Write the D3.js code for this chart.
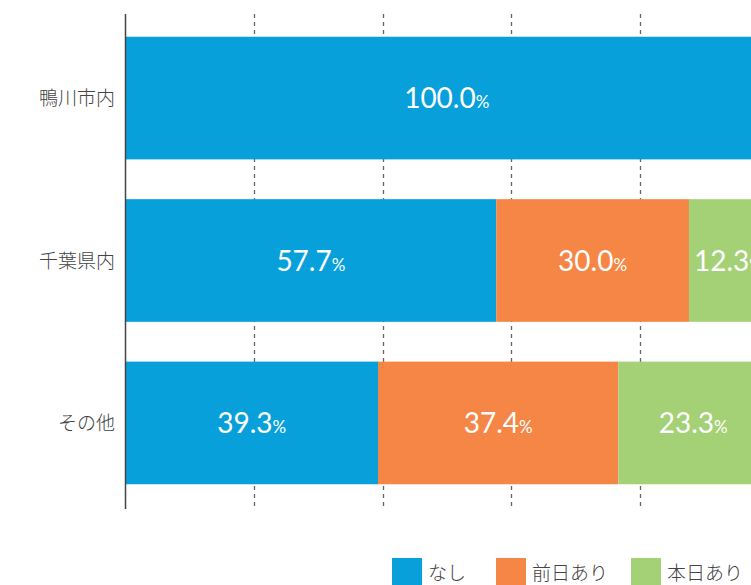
<!DOCTYPE html>
<html>
<head>
<meta charset="utf-8">
<script src="https://cdn.jsdelivr.net/npm/d3@7"></script>
<style>
  body { margin: 0; background: #fff; }
  svg { display: block; font-family: "Lato", "Noto Sans CJK JP", sans-serif; }
</style>
</head>
<body>
<svg id="chart" width="751" height="585"></svg>
<script>
const categories = ["鴨川市内", "千葉県内", "その他"];
const seriesNames = ["なし", "前日あり", "本日あり"];
const colors = ["#07a0db", "#f58646", "#a4d176"];
const values = [
  [100.0, 0, 0],
  [57.7, 30.0, 12.3],
  [39.3, 37.4, 23.3]
];
const gridTicks = [20, 40, 60, 80];

const svg = d3.select("#chart");

const x = d3.scaleLinear().domain([0, 100]).range([125.5, 768]);
const y = d3.scaleBand().domain(categories).range([14, 507]).paddingInner(0.245).paddingOuter(0.14);

// dashed grid lines
svg.append("g")
  .selectAll("line")
  .data(gridTicks)
  .enter()
  .append("line")
  .attr("x1", d => Math.round(x(d)) + 0.5)
  .attr("x2", d => Math.round(x(d)) + 0.5)
  .attr("y1", 14)
  .attr("y2", 509)
  .style("stroke", "#666")
  .style("stroke-width", "1.3px")
  .style("stroke-dasharray", "4,4");

// stack rows
const rows = categories.map((c, i) => {
  let acc = 0;
  return values[i].map((v, j) => {
    const seg = { cat: c, s: j, x0: acc, x1: acc + v, v: v };
    acc += v;
    return seg;
  }).filter(d => d.v > 0);
});

const segs = rows.flat();

svg.append("g")
  .selectAll("rect")
  .data(segs)
  .enter()
  .append("rect")
  .attr("x", d => x(d.x0))
  .attr("width", d => x(d.x1) - x(d.x0))
  .attr("y", d => y(d.cat))
  .attr("height", y.bandwidth())
  .attr("fill", d => colors[d.s]);

const lbl = svg.append("g")
  .selectAll("text")
  .data(segs)
  .enter()
  .append("text")
  .attr("x", d => (x(d.x0) + x(d.x1)) / 2)
  .attr("y", d => y(d.cat) + y.bandwidth() / 2 + 10)
  .attr("text-anchor", "middle")
  .attr("fill", "#fff")
  .style("font-weight", 400);
lbl.append("tspan").style("font-size", "28px").text(d => d.v.toFixed(1));
lbl.append("tspan").style("font-size", "17px").text("%");

// axis line
svg.append("line")
  .attr("x1", 125.5).attr("x2", 125.5)
  .attr("y1", 14).attr("y2", 509)
  .style("stroke", "#444")
  .style("stroke-width", "1.5px");

// category labels
svg.append("g")
  .selectAll("text")
  .data(categories)
  .enter()
  .append("text")
  .attr("x", 115)
  .attr("y", d => y(d) + y.bandwidth() / 2 + 7)
  .attr("text-anchor", "end")
  .attr("fill", "#444")
  .style("font-family", "'Noto Sans CJK JP', sans-serif")
  .style("font-weight", 300)
  .style("font-size", "19px")
  .text(d => d);

// legend
const legX = [392, 496, 631];
const leg = svg.append("g")
  .selectAll("g")
  .data(seriesNames)
  .enter()
  .append("g")
  .attr("transform", (d, i) => `translate(${legX[i]}, 558)`);
leg.append("rect").attr("width", 30).attr("height", 28).attr("fill", (d, i) => colors[i]);
leg.append("text")
  .attr("x", 36)
  .attr("y", 22)
  .attr("fill", "#444")
  .style("font-family", "'Noto Sans CJK JP', sans-serif")
  .style("font-weight", 300)
  .style("font-size", "19px")
  .text(d => d);
</script>
</body>
</html>
